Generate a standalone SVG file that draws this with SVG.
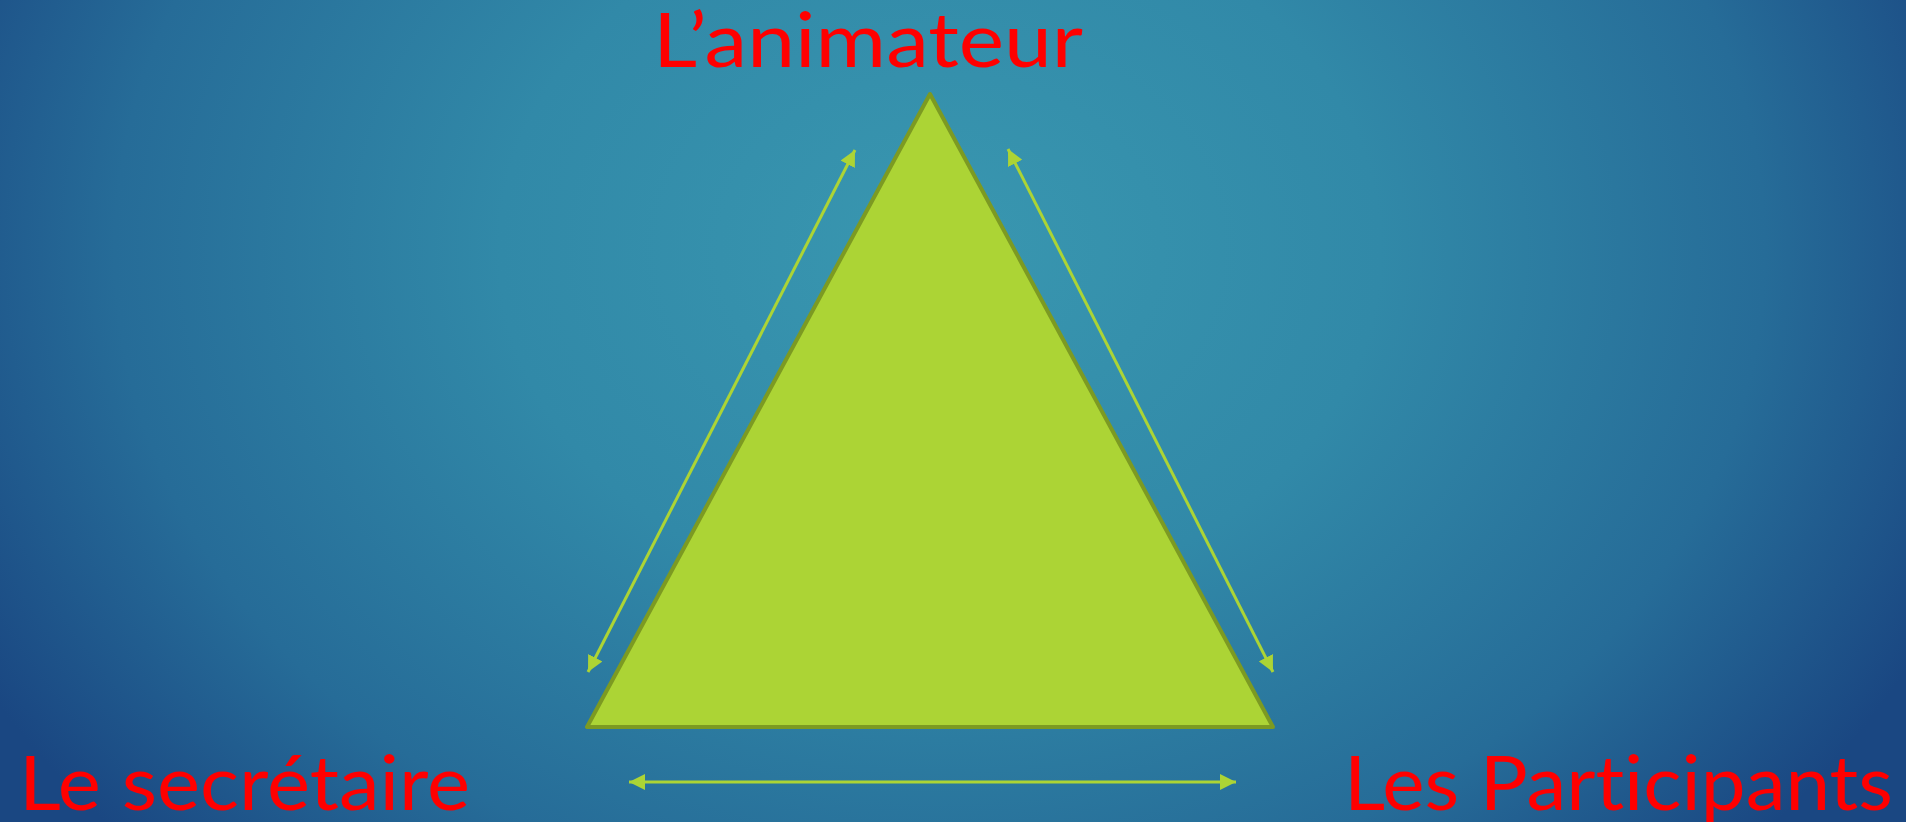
<svg xmlns="http://www.w3.org/2000/svg" width="1906" height="822" viewBox="0 0 1906 822">
<defs>
<radialGradient id="bg" gradientUnits="userSpaceOnUse" cx="940" cy="250" r="1100" gradientTransform="translate(940 250) scale(1 0.8) translate(-940 -250)">
<stop offset="0" stop-color="#3997b0"/>
<stop offset="0.4" stop-color="#3189a8"/>
<stop offset="0.75" stop-color="#266c98"/>
<stop offset="1" stop-color="#1a4782"/>
</radialGradient>
<marker id="ah" viewBox="0 0 10 10" refX="10" refY="5" markerWidth="16" markerHeight="16" markerUnits="userSpaceOnUse" orient="auto-start-reverse">
<path d="M0,0 L10,5 L0,10 z" fill="#acd435"/>
</marker>
<style>
.lbl{font-family:Lato,"Liberation Sans",sans-serif;font-weight:400;font-size:75px;fill:#ff0000;font-variant-ligatures:none;font-feature-settings:"liga" 0,"clig" 0;}
.conn{stroke:#acd435;stroke-width:3;fill:none;}
</style>
</defs>
<rect width="1906" height="822" fill="url(#bg)"/>
<g id="triangle">
<polygon points="930,94 587,727 1273,727" fill="#acd435" stroke="#7c9a22" stroke-width="4" stroke-linejoin="round"/>
</g>
<g id="connectors">
<line class="conn" x1="855" y1="150" x2="588" y2="672" marker-start="url(#ah)" marker-end="url(#ah)"/>
<line class="conn" x1="1008" y1="149" x2="1273" y2="672" marker-start="url(#ah)" marker-end="url(#ah)"/>
<line class="conn" x1="629" y1="782" x2="1236" y2="782" marker-start="url(#ah)" marker-end="url(#ah)"/>
</g>
<g id="node-animateur">
<text class="lbl" x="653" y="67" textLength="430" lengthAdjust="spacingAndGlyphs">L’animateur</text>
</g>
<g id="node-secretaire">
<text class="lbl" x="19" y="810" textLength="451" lengthAdjust="spacingAndGlyphs">Le secrétaire</text>
</g>
<g id="node-participants">
<text class="lbl" x="1344" y="810" textLength="549" lengthAdjust="spacingAndGlyphs">Les Participants</text>
</g>
</svg>
